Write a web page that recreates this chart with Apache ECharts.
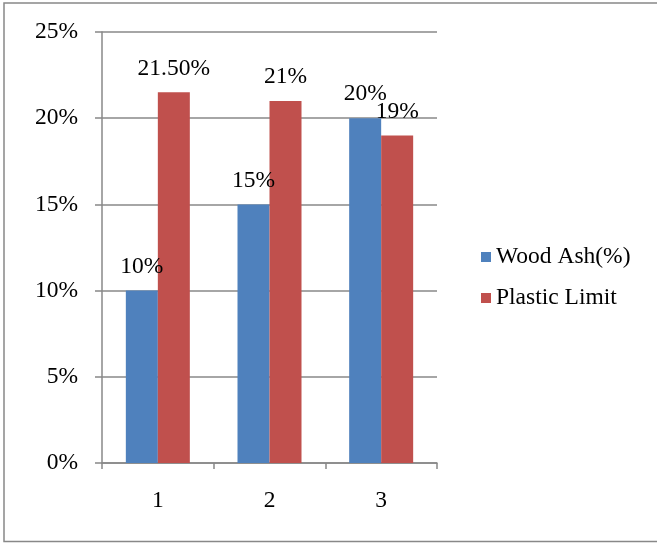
<!DOCTYPE html>
<html>
<head>
<meta charset="utf-8">
<script src="https://cdn.jsdelivr.net/npm/echarts@6/dist/echarts.min.js"></script>
<style>html,body{margin:0;padding:0;background:#fff}#c{width:657px;height:543px}</style>
</head>
<body>
<div id="c"></div>
<script>
const categories = ['1', '2', '3'];
const woodAsh = [10, 15, 20];
const plasticLimit = [21.5, 21, 19];
const woodAshLabels = ['10%', '15%', '20%'];
const plasticLimitLabels = ['21.50%', '21%', '19%'];
const seriesNames = ['Wood Ash(%)', 'Plastic Limit'];

const FONT = '"Liberation Serif", "Times New Roman", serif';
const FS = 23.5;
const GRAY = '#888888';

const chart = echarts.init(document.getElementById('c'), null, {renderer: 'canvas'});
function labelCfg(texts) {
  return {
    show: true,
    position: 'top',
    distance: 12,
    fontFamily: FONT,
    fontSize: FS,
    color: '#000',
    formatter: p => texts[p.dataIndex]
  };
}
chart.setOption({
  animation: false,
  backgroundColor: '#fff',
  graphic: [{
    type: 'rect',
    shape: {x: 4, y: 3, width: 700, height: 538.5},
    style: {fill: 'none', stroke: GRAY, lineWidth: 1.5},
    silent: true
  }],
  grid: {left: 102, right: 220, top: 32, bottom: 80, containLabel: false},
  legend: {
    orient: 'vertical',
    left: 476,
    top: 240,
    itemWidth: 10,
    itemHeight: 10,
    itemGap: 17,
    icon: 'rect',
    textStyle: {fontFamily: FONT, fontSize: FS, color: '#000'},
    data: seriesNames
  },
  xAxis: {
    type: 'category',
    data: categories,
    axisLine: {lineStyle: {color: GRAY, width: 1.5}},
    axisTick: {show: true, length: 6, alignWithLabel: false, lineStyle: {color: GRAY, width: 1.5}},
    axisLabel: {fontFamily: FONT, fontSize: FS, color: '#000', margin: 26},
    splitLine: {show: false}
  },
  yAxis: {
    type: 'value',
    min: 0,
    max: 25,
    interval: 5,
    axisLine: {show: true, lineStyle: {color: GRAY, width: 1.5}},
    axisTick: {show: true, length: 7, lineStyle: {color: GRAY, width: 1.5}},
    axisLabel: {fontFamily: FONT, fontSize: FS, color: '#000', margin: 24, formatter: v => v + '%'},
    splitLine: {show: true, lineStyle: {color: GRAY, width: 1.5}}
  },
  series: [
    {
      name: seriesNames[0],
      type: 'bar',
      data: woodAsh,
      barWidth: 32,
      barGap: '0%',
      itemStyle: {color: '#4F81BD'},
      label: labelCfg(woodAshLabels),
      z: 2
    },
    {
      name: seriesNames[1],
      type: 'bar',
      data: plasticLimit,
      barWidth: 32,
      barGap: '0%',
      itemStyle: {color: '#C0504D'},
      label: labelCfg(plasticLimitLabels),
      z: 2
    }
  ]
});
</script>
</body>
</html>
